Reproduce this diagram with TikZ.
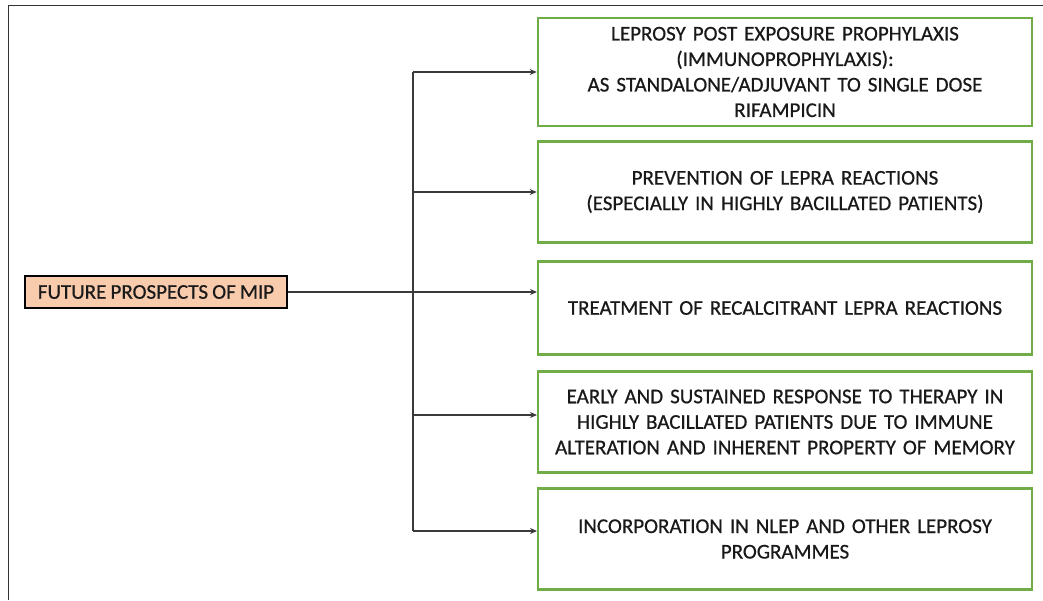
\documentclass[tikz,border=0pt]{standalone}
\usepackage{fontspec}
\setmainfont[FakeBold=0.6]{Carlito}
\usetikzlibrary{arrows.meta,calc}
\definecolor{boxgreen}{HTML}{70AD47}
\definecolor{peach}{HTML}{F8CBAD}
\definecolor{linegray}{HTML}{3A3A3A}
\newcommand{\tightsp}{\spaceskip=0.2em plus 0.05em minus 0.05em\relax}
\tikzset{
  x=1pt,y=1pt,
  gbox/.style={draw=boxgreen,line width=2.6pt,fill=white,minimum width=494pt,text width=486pt,align=center,inner sep=0pt,text=black!90,font=\fontsize{21}{25.5}\selectfont\tightsp},
  mainbox/.style={draw=black,line width=2.6pt,fill=peach,minimum width=262pt,minimum height=32pt,inner sep=0pt,text=black!90,font=\fontsize{21}{24}\selectfont\tightsp},
  conn/.style={draw=linegray,line width=1.1pt},
  arr/.style={conn,-{Stealth[length=7pt,width=6pt]}}
}
\begin{document}
\begin{tikzpicture}
\useasboundingbox (0,0) rectangle (1043,-600);
\draw[line width=1pt,black!80] (1043,-5) -- (8,-5) -- (8,-600);
\node[mainbox] (main) at (156,-292) {FUTURE PROSPECTS OF MIP};
\node[gbox,minimum height=108pt] (b1) at (785,-72) {LEPROSY POST EXPOSURE PROPHYLAXIS\\(IMMUNOPROPHYLAXIS):\\AS STANDALONE/ADJUVANT TO SINGLE DOSE\\RIFAMPICIN};
\node[gbox,minimum height=101pt] (b2) at (785,-192) {PREVENTION OF LEPRA REACTIONS\\(ESPECIALLY IN HIGHLY BACILLATED PATIENTS)};
\node[gbox,minimum height=93pt] (b3) at (785,-308) {TREATMENT OF RECALCITRANT LEPRA REACTIONS};
\node[gbox,minimum height=101pt] (b4) at (785,-422) {EARLY AND SUSTAINED RESPONSE TO THERAPY IN\\HIGHLY BACILLATED PATIENTS DUE TO IMMUNE\\ALTERATION AND INHERENT PROPERTY OF MEMORY};
\node[gbox,minimum height=101pt] (b5) at (785,-539) {INCORPORATION IN NLEP AND OTHER LEPROSY\\PROGRAMMES};
\coordinate (j) at (413,-292);
\coordinate (jt) at (413,-72);
\coordinate (jb) at (413,-531);
\coordinate (t3) at (537,-292);
\coordinate (t4) at (537,-415);
\coordinate (t5) at (537,-531);
\draw[conn] (main.east) -- (j);
\draw[conn] (jt) -- (jb);
\draw[arr] (jt) -- (b1.west);
\draw[arr] (j |- b2.west) -- (b2.west);
\draw[arr] (j) -- (t3);
\draw[arr] (j |- t4) -- (t4);
\draw[arr] (jb) -- (t5);
\end{tikzpicture}
\end{document}
